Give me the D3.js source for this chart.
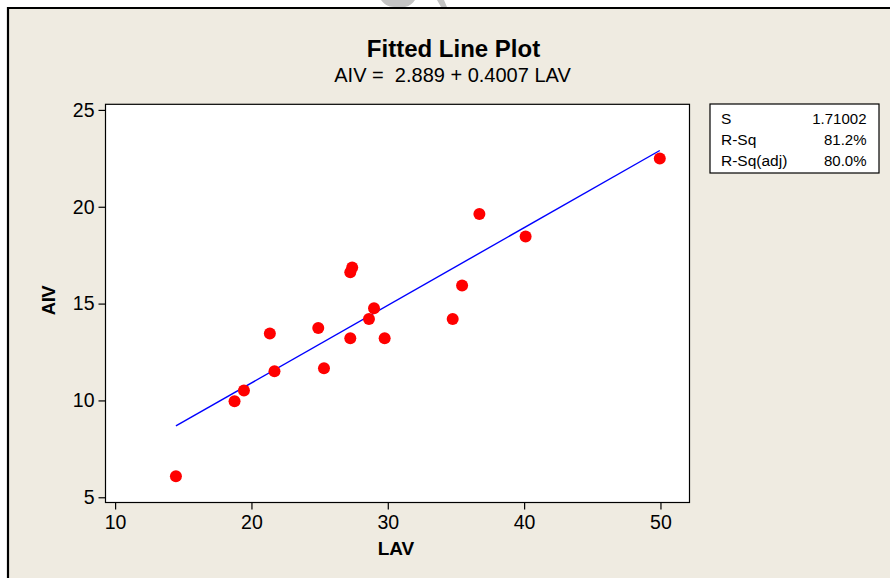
<!DOCTYPE html>
<html>
<head>
<meta charset="utf-8">
<script src="https://cdn.jsdelivr.net/npm/d3@7"></script>
<style>
  html, body { margin: 0; padding: 0; background: #ffffff; }
  svg { display: block; }
  text { font-family: "Liberation Sans", Arial, sans-serif; }
</style>
</head>
<body>
<svg id="chart" width="890" height="578"></svg>
<script>
// ---- data ----
const lav = [14.46, 18.76, 19.45, 21.35, 21.69, 24.90, 25.32, 27.25, 27.39, 27.25,
             28.62, 28.99, 29.77, 34.76, 35.45, 36.72, 40.11, 49.95];
const aiv = [6.08, 9.96, 10.51, 13.45, 11.51, 13.74, 11.66, 16.62, 16.86, 13.21,
             14.21, 14.76, 13.21, 14.21, 15.93, 19.63, 18.46, 22.49];
const xTicks = [10, 20, 30, 40, 50];
const yTicks = [5, 10, 15, 20, 25];
const intercept = 2.889;
const slope = 0.4007;
const statLabels = ["S", "R-Sq", "R-Sq(adj)"];
const statValues = ["1.71002", "81.2%", "80.0%"];
const titleText = "Fitted Line Plot";
const subtitleText = "AIV =  2.889 + 0.4007 LAV";
const xLabel = "LAV";
const yLabel = "AIV";

// ---- layout ----
const svg = d3.select("#chart");
const box = { left: 105.5, right: 689.5, top: 104.3, bottom: 502.5 };

const x = d3.scaleLinear().domain([9.295, 52.13]).range([box.left, box.right]);
const y = d3.scaleLinear().domain([4.73, 25.29]).range([box.bottom, box.top]);

// background & frame
svg.append("rect").attr("x", 9).attr("y", 9).attr("width", 890).attr("height", 578)
  .attr("fill", "#efebe1");
svg.append("path").attr("d", "M8,578 L8,8 L890,8")
  .attr("fill", "none").attr("stroke", "#000").attr("stroke-width", 2.2);

// faint watermark remnant at the top edge
svg.append("path")
  .attr("d", "M381,0 C384,4 388,7 394,7 L405,7 C410,6 413,3 415,0 Z M437,0 L441,7 L447,7 L444,0 Z")
  .attr("fill", "#c4c4c4");

// plot area
svg.append("rect")
  .attr("x", box.left).attr("y", box.top)
  .attr("width", box.right - box.left).attr("height", box.bottom - box.top)
  .attr("fill", "#ffffff").attr("stroke", "#000").attr("stroke-width", 1.2);

// axes
const xAxis = svg.append("g")
  .attr("transform", `translate(0,${box.bottom})`)
  .call(d3.axisBottom(x).tickValues(xTicks).tickSize(7).tickPadding(6).tickFormat(d3.format("d")));
const yAxis = svg.append("g")
  .attr("transform", `translate(${box.left},0)`)
  .call(d3.axisLeft(y).tickValues(yTicks).tickSize(7).tickPadding(4).tickFormat(d3.format("d")));
[xAxis, yAxis].forEach(g => {
  g.select(".domain").remove();
  g.selectAll(".tick line").attr("stroke", "#000").attr("stroke-width", 1.2);
  g.selectAll(".tick text")
    .attr("fill", "#000")
    .style("font-family", "'Liberation Sans', Arial, sans-serif")
    .style("font-size", "19.5px");
});

// fitted line over the data range
const xMin = d3.min(lav), xMax = d3.max(lav);
const fitPts = [xMin, xMax].map(v => [v, intercept + slope * v]);
svg.append("path")
  .datum(fitPts)
  .attr("d", d3.line().x(d => x(d[0])).y(d => y(d[1])))
  .attr("fill", "none").attr("stroke", "#0000ff").attr("stroke-width", 1.4);

// points
svg.append("g").selectAll("circle")
  .data(lav.map((v, i) => [v, aiv[i]]))
  .join("circle")
  .attr("cx", d => x(d[0])).attr("cy", d => y(d[1]))
  .attr("r", 6).attr("fill", "#ff0000");

// titles
svg.append("text").attr("x", 453.5).attr("y", 57).attr("text-anchor", "middle")
  .style("font-size", "24px").style("font-weight", "bold").text(titleText);
svg.append("text").attr("x", 452.5).attr("y", 82).attr("text-anchor", "middle")
  .style("font-size", "20px").style("white-space", "pre").attr("xml:space", "preserve")
  .text(subtitleText);

// axis titles
svg.append("text").attr("x", 396).attr("y", 555).attr("text-anchor", "middle")
  .style("font-size", "19px").style("font-weight", "bold").text(xLabel);
svg.append("text").attr("transform", "translate(55,300.5) rotate(-90)")
  .attr("text-anchor", "middle")
  .style("font-size", "18.5px").style("font-weight", "bold").style("letter-spacing", "-0.5px")
  .text(yLabel);

// stats box
svg.append("rect").attr("x", 710).attr("y", 104).attr("width", 169).attr("height", 69)
  .attr("fill", "#ffffff").attr("stroke", "#000").attr("stroke-width", 1.2);
const rowY = [123.5, 144.5, 165.5];
statLabels.forEach((s, i) => {
  svg.append("text").attr("x", 721).attr("y", rowY[i])
    .style("font-size", "15.5px").text(s);
  svg.append("text").attr("x", 866.5).attr("y", rowY[i]).attr("text-anchor", "end")
    .style("font-size", "15px").text(statValues[i]);
});
</script>
</body>
</html>
